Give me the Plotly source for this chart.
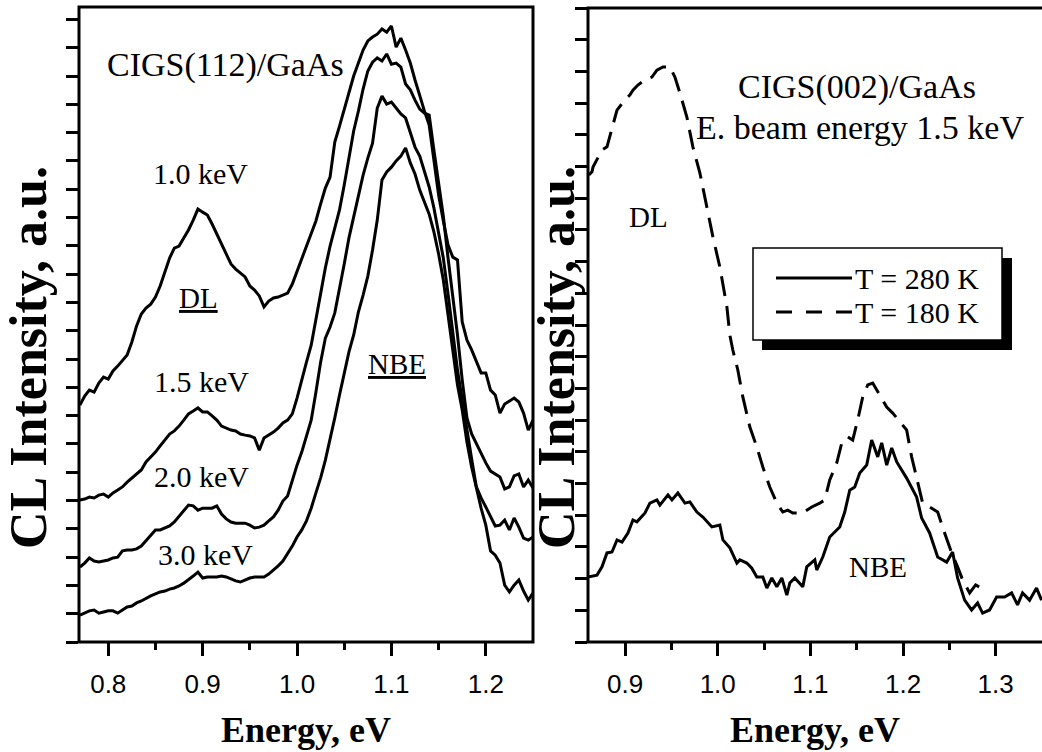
import plotly.graph_objects as go

# ---------------- data ----------------
# Left panel: CL spectra of CIGS(112)/GaAs for several e-beam energies
energy_left = [
    0.770, 0.775, 0.780, 0.785, 0.790, 0.795, 0.800, 0.805, 0.810, 0.815,
    0.820, 0.825, 0.830, 0.835, 0.840, 0.845, 0.850, 0.855, 0.860, 0.865,
    0.870, 0.875, 0.880, 0.885, 0.890, 0.895, 0.900, 0.905, 0.910, 0.915,
    0.920, 0.925, 0.930, 0.935, 0.940, 0.945, 0.950, 0.955, 0.960, 0.965,
    0.970, 0.975, 0.980, 0.985, 0.990, 0.995, 1.000, 1.005, 1.010, 1.015,
    1.020, 1.025, 1.030, 1.035, 1.040, 1.045, 1.050, 1.055, 1.060, 1.065,
    1.070, 1.075, 1.080, 1.085, 1.090, 1.095, 1.100, 1.105, 1.110, 1.115,
    1.120, 1.125, 1.130, 1.135, 1.140, 1.145, 1.150, 1.155, 1.160, 1.165,
    1.170, 1.175, 1.180, 1.185, 1.190, 1.195, 1.200, 1.205, 1.210, 1.215,
    1.220, 1.225, 1.230, 1.235, 1.240, 1.245, 1.250,
]

cl_1p0_kev = [
    8.37, 8.69, 8.90, 8.83, 9.15, 9.36, 9.29, 9.58, 9.75, 9.93,
    10.14, 10.60, 11.17, 11.59, 11.80, 11.94, 12.19, 12.58, 13.04, 13.57,
    13.92, 13.99, 14.28, 14.56, 14.91, 15.30, 15.19, 15.09, 14.77, 14.42,
    14.10, 13.75, 13.36, 13.18, 13.04, 12.90, 12.58, 12.44, 12.23, 11.84,
    12.05, 12.16, 12.19, 12.26, 12.33, 12.65, 13.11, 13.50, 13.99, 14.42,
    14.88, 15.48, 16.04, 16.43, 17.67, 18.23, 18.83, 19.36, 20.00, 20.46,
    20.92, 21.24, 21.38, 21.48, 21.66, 21.55, 21.77, 21.02, 21.34, 20.92,
    20.46, 19.86, 19.29, 18.76, 18.27, 17.10, 15.80, 14.88, 14.03, 13.60,
    13.50, 11.31, 10.67, 10.32, 9.89, 9.51, 9.51, 8.90, 8.73, 8.09,
    8.41, 8.52, 8.62, 8.48, 8.09, 7.49, 7.84,
]

cl_1p5_kev = [
    5.02, 5.05, 5.12, 5.09, 5.19, 5.23, 5.12, 5.27, 5.37, 5.48,
    5.65, 5.80, 5.94, 6.08, 6.36, 6.54, 6.71, 6.93, 7.14, 7.35,
    7.46, 7.63, 7.84, 8.06, 8.16, 8.27, 8.13, 8.13, 7.99, 7.84,
    7.63, 7.56, 7.49, 7.46, 7.35, 7.31, 7.28, 7.21, 6.78, 7.21,
    7.31, 7.42, 7.56, 7.74, 7.84, 8.06, 8.62, 9.29, 9.89, 10.49,
    11.45, 12.40, 13.22, 13.99, 14.63, 15.27, 16.15, 17.14, 18.06, 18.76,
    19.54, 20.18, 20.49, 20.64, 20.53, 20.78, 20.42, 20.46, 20.32, 19.72,
    19.51, 19.15, 18.83, 18.69, 18.62, 17.39, 16.25, 15.05, 13.57, 12.26,
    10.85, 9.26, 7.92, 7.35, 7.00, 6.68, 6.33, 6.04, 5.94, 5.83,
    5.41, 5.48, 5.87, 5.94, 5.48, 5.72, 5.44,
]

cl_2p0_kev = [
    2.65, 2.79, 2.97, 2.86, 2.83, 2.86, 2.90, 2.97, 3.00, 3.22,
    3.25, 3.25, 3.29, 3.39, 3.57, 3.78, 3.96, 3.96, 4.03, 4.10,
    4.24, 4.45, 4.66, 4.84, 4.81, 4.66, 4.73, 4.73, 4.73, 4.81,
    4.52, 4.35, 4.24, 4.20, 4.20, 4.20, 4.13, 4.03, 4.06, 4.13,
    4.28, 4.42, 4.66, 4.98, 5.16, 5.72, 6.25, 6.71, 7.28, 7.84,
    8.83, 9.89, 10.74, 11.13, 11.63, 12.44, 13.36, 14.28, 15.05, 15.80,
    16.50, 17.10, 17.63, 18.87, 19.29, 19.01, 19.08, 18.87, 18.66, 18.52,
    17.99, 17.49, 17.17, 16.64, 16.08, 15.34, 14.45, 13.57, 12.30, 11.02,
    9.61, 8.55, 7.46, 6.47, 5.48, 5.09, 4.77, 4.42, 4.10, 4.13,
    4.31, 3.96, 4.38, 4.06, 3.67, 3.60, 3.71,
]

cl_3p0_kev = [
    0.95, 1.02, 1.10, 1.13, 1.02, 1.06, 1.10, 1.10, 1.02, 1.13,
    1.24, 1.27, 1.38, 1.45, 1.55, 1.63, 1.70, 1.77, 1.80, 1.87,
    1.91, 1.98, 2.08, 2.19, 2.33, 2.47, 2.26, 2.30, 2.30, 2.30,
    2.33, 2.30, 2.23, 2.16, 2.12, 2.19, 2.26, 2.30, 2.30, 2.30,
    2.40, 2.54, 2.69, 2.86, 3.11, 3.39, 3.71, 3.96, 4.28, 4.73,
    5.27, 5.80, 6.43, 7.14, 7.92, 8.73, 9.54, 10.25, 10.85, 11.66,
    12.26, 12.93, 13.85, 14.91, 16.33, 16.61, 16.78, 17.00, 17.17, 17.46,
    16.93, 16.54, 15.97, 15.51, 15.12, 14.49, 13.71, 12.79, 11.59, 10.32,
    9.08, 8.20, 7.07, 6.18, 5.41, 4.73, 4.13, 3.22, 3.07, 2.79,
    2.01, 1.77, 2.01, 2.19, 1.80, 1.48, 1.73,
]

# Right panel: CIGS(002)/GaAs at 1.5 keV, two temperatures
energy_280k = [
    0.8600, 0.8697, 0.8751, 0.8805, 0.8859, 0.8913, 0.8967, 0.9031, 0.9085, 0.9128,
    0.9215, 0.9268, 0.9344, 0.9376, 0.9463, 0.9506, 0.9570, 0.9646, 0.9700, 0.9775,
    0.9840, 0.9937, 1.0023, 1.0056, 1.0131, 1.0207, 1.0239, 1.0314, 1.0368, 1.0422,
    1.0487, 1.0530, 1.0584, 1.0638, 1.0692, 1.0746, 1.0778, 1.0832, 1.0918, 1.0961,
    1.1048, 1.1069, 1.1134, 1.1209, 1.1317, 1.1371, 1.1425, 1.1479, 1.1533, 1.1608,
    1.1662, 1.1727, 1.1770, 1.1824, 1.1878, 1.1932, 1.2039, 1.2147, 1.2201, 1.2287,
    1.2374, 1.2471, 1.2535, 1.2589, 1.2665, 1.2740, 1.2805, 1.2859, 1.2934, 1.3010,
    1.3096, 1.3172, 1.3236, 1.3290, 1.3366, 1.3441, 1.3495,
]
cl_280k = [
    2.05, 2.11, 2.37, 2.81, 2.84, 3.22, 3.15, 3.44, 3.85, 3.79,
    4.07, 4.38, 4.48, 4.32, 4.64, 4.48, 4.70, 4.38, 4.42, 4.10,
    3.94, 3.63, 3.69, 3.22, 2.97, 2.49, 2.59, 2.49, 2.33, 2.05,
    2.05, 1.70, 2.02, 1.74, 2.02, 1.48, 1.86, 2.02, 1.74, 2.37,
    2.59, 2.27, 2.68, 3.31, 3.63, 4.10, 4.79, 4.89, 5.33, 5.58,
    6.37, 5.84, 6.28, 5.58, 6.12, 5.68, 5.17, 4.57, 3.91, 3.44,
    2.68, 2.52, 2.84, 2.02, 1.32, 1.01, 1.23, 0.91, 1.01, 1.42,
    1.42, 1.55, 1.17, 1.55, 1.32, 1.70, 1.32,
]

energy_180k = [
    0.8610, 0.8643, 0.8654, 0.8751, 0.8805, 0.8859, 0.8913, 0.8999, 0.9053, 0.9085,
    0.9139, 0.9215, 0.9290, 0.9344, 0.9409, 0.9484, 0.9538, 0.9592, 0.9667, 0.9732,
    0.9808, 0.9883, 0.9948, 1.0023, 1.0099, 1.0131, 1.0163, 1.0217, 1.0271, 1.0347,
    1.0422, 1.0487, 1.0562, 1.0638, 1.0702, 1.0756, 1.0810, 1.0918, 1.1015, 1.1101,
    1.1155, 1.1209, 1.1285, 1.1339, 1.1403, 1.1457, 1.1511, 1.1565, 1.1619, 1.1673,
    1.1727, 1.1824, 1.1889, 1.1964, 1.2039, 1.2093, 1.2158, 1.2212, 1.2287, 1.2374,
    1.2449, 1.2525, 1.2589, 1.2643, 1.2719, 1.2784, 1.2848,
]
cl_180k = [
    14.73, 14.83, 14.98, 15.52, 15.62, 16.21, 16.78, 17.10, 17.26, 17.41,
    17.57, 17.73, 17.82, 18.04, 18.14, 18.14, 17.82, 17.32, 16.56, 15.62,
    14.79, 13.72, 12.78, 11.83, 10.57, 9.68, 9.21, 8.58, 7.73, 6.78,
    6.15, 5.52, 4.89, 4.38, 4.10, 4.16, 4.07, 4.07, 4.26, 4.38,
    4.48, 5.11, 5.65, 6.28, 6.47, 6.37, 7.00, 7.73, 8.11, 8.17,
    7.89, 7.41, 7.22, 6.94, 6.69, 5.84, 5.02, 4.38, 4.26, 4.10,
    3.44, 2.81, 2.37, 1.96, 1.55, 1.80, 1.70,
]

left_ticks = [0.8, 0.9, 1.0, 1.1, 1.2]
left_minor = [0.85, 0.95, 1.05, 1.15]
left_top = [0.80, 0.85, 0.90, 0.95, 1.00, 1.05, 1.10, 1.15, 1.20]
right_ticks = [0.9, 1.0, 1.1, 1.2, 1.3]
right_minor = [0.95, 1.05, 1.15, 1.25]
right_top = [0.90, 0.95, 1.00, 1.05, 1.10, 1.15, 1.20, 1.25, 1.30]

legend_labels = ["T = 280 K", "T = 180 K"]

# ---------------- figure ----------------
W, H = 1042, 752
BLACK = "black"
SERIF = "Liberation Serif, Times New Roman, serif"
SANS = "Liberation Sans, Arial, sans-serif"
DASH = "20px,10px"


def px(x):
    return x / W


def py(y):
    return 1 - y / H


fig = go.Figure()
line = dict(color=BLACK, width=3)

for ys in (cl_1p0_kev, cl_1p5_kev, cl_2p0_kev, cl_3p0_kev):
    fig.add_trace(go.Scatter(x=energy_left, y=ys, mode="lines", line=line,
                             showlegend=False, xaxis="x", yaxis="y"))

fig.add_trace(go.Scatter(x=energy_280k, y=cl_280k, mode="lines", name=legend_labels[0],
                         line=dict(color=BLACK, width=3), showlegend=False,
                         xaxis="x2", yaxis="y2"))
fig.add_trace(go.Scatter(x=energy_180k, y=cl_180k, mode="lines", name=legend_labels[1],
                         line=dict(color=BLACK, width=3, dash=DASH), showlegend=False,
                         xaxis="x2", yaxis="y2"))

# panel geometry (pixels)
LX0, LX1, LY0, LY1 = 79, 533, 7, 642
RX0, RX1, RY0, RY1 = 588, 1042, 8, 642

dom_lx = [px(LX0), px(LX1)]
dom_rx = [px(RX0), 1.0]
dom_ly = [py(LY1), py(LY0)]
dom_ry = [py(RY1), py(RY0)]
xr_l = [0.769, 1.25]
xr_r = [0.86, 1.35]
yr_l = [0, 22.44]
yr_r = [0, 20]

common = dict(showgrid=False, zeroline=False, showline=False,
              tickcolor=BLACK, tickwidth=3)
tickfont = dict(family=SANS, size=26, color=BLACK)
minor_style = dict(ticks="outside", ticklen=7, tickwidth=3, tickcolor=BLACK)

fig.update_layout(
    width=W, height=H, autosize=False,
    margin=dict(l=0, r=0, t=0, b=0),
    paper_bgcolor="white", plot_bgcolor="white",
    showlegend=False,
    xaxis=dict(domain=dom_lx, range=xr_l, anchor="y", ticks="outside", ticklen=13,
               tickvals=left_ticks, ticktext=[f"{v:.1f}" for v in left_ticks],
               tickfont=tickfont, ticklabelstandoff=6,
               minor=dict(tickvals=left_minor, **minor_style), **common),
    xaxis3=dict(range=xr_l, overlaying="x", side="top", anchor="y", ticks="inside",
                ticklen=13, tickvals=left_top, showticklabels=False, **common),
    yaxis=dict(domain=dom_ly, range=yr_l, anchor="x", ticks="outside", ticklen=12,
               tick0=0, dtick=1, showticklabels=False, **common),
    yaxis3=dict(range=yr_l, overlaying="y", side="right", anchor="x", ticks="inside",
                ticklen=13, tick0=0, dtick=1, showticklabels=False, **common),
    xaxis2=dict(domain=dom_rx, range=xr_r, anchor="y2", ticks="outside", ticklen=13,
                tickvals=right_ticks, ticktext=[f"{v:.1f}" for v in right_ticks],
                tickfont=tickfont, ticklabelstandoff=6,
                minor=dict(tickvals=right_minor, **minor_style), **common),
    xaxis4=dict(range=xr_r, overlaying="x2", side="top", anchor="y2", ticks="inside",
                ticklen=13, tickvals=right_top, showticklabels=False, **common),
    yaxis2=dict(domain=dom_ry, range=yr_r, anchor="x2", ticks="outside", ticklen=12,
                tick0=0, dtick=1, showticklabels=False, **common),
    yaxis4=dict(range=yr_r, overlaying="y2", side="right", anchor="x2", ticks="inside",
                ticklen=13, tick0=0, dtick=1, showticklabels=False, **common),
)

# panel frames
frame = dict(color=BLACK, width=3)
fig.add_shape(type="rect", xref="paper", yref="paper",
              x0=px(LX0), x1=px(LX1), y0=py(LY1), y1=py(LY0), line=frame)
# right panel: left, bottom and top edges (right edge lies at the page border)
fig.add_shape(type="line", xref="paper", yref="paper",
              x0=px(RX0), x1=px(RX0), y0=py(RY1), y1=py(RY0), line=frame)
fig.add_shape(type="line", xref="paper", yref="paper",
              x0=px(RX0 - 1.5), x1=1.0, y0=py(RY1), y1=py(RY1), line=frame)
fig.add_shape(type="line", xref="paper", yref="paper",
              x0=px(RX0 - 1.5), x1=1.0, y0=py(RY0), y1=py(RY0), line=frame)

# legend box with drop shadow
fig.add_shape(type="rect", xref="paper", yref="paper",
              x0=px(762), x1=px(1012), y0=py(350), y1=py(258),
              fillcolor=BLACK, line=dict(width=0))
fig.add_shape(type="rect", xref="paper", yref="paper",
              x0=px(753), x1=px(1002), y0=py(340), y1=py(248),
              fillcolor="white", line=dict(color=BLACK, width=1.5))
fig.add_shape(type="line", xref="paper", yref="paper",
              x0=px(776), x1=px(852), y0=py(278), y1=py(278),
              line=dict(color=BLACK, width=3))
fig.add_shape(type="line", xref="paper", yref="paper",
              x0=px(776), x1=px(852), y0=py(312), y1=py(312),
              line=dict(color=BLACK, width=3, dash="16px,14px"))
for label, yy in zip(legend_labels, (278, 312)):
    fig.add_annotation(text=label, x=px(853), y=py(yy), xref="paper", yref="paper",
                       showarrow=False, xanchor="left", yanchor="middle",
                       font=dict(family=SERIF, size=30, color=BLACK))

annotations = [
    ("CIGS(112)/GaAs", 225, 65, 34),
    ("1.0 keV", 200, 173, 30),
    ("<u>DL</u>", 198, 298, 29),
    ("1.5 keV", 201, 381, 30),
    ("2.0 keV", 201, 476, 30),
    ("3.0 keV", 205, 554, 30),
    ("<u>NBE</u>", 397, 364, 29),
    ("CIGS(002)/GaAs", 857, 87, 34),
    ("E. beam energy 1.5 keV", 860, 127, 34),
    ("DL", 648, 217, 29),
    ("NBE", 878, 567, 29),
]
for text, x, y, size in annotations:
    fig.add_annotation(text=text, x=px(x), y=py(y), xref="paper", yref="paper",
                       showarrow=False, xanchor="center", yanchor="middle",
                       font=dict(family=SERIF, size=size, color=BLACK))

# axis titles
for x in (306, 815):
    fig.add_annotation(text="<b>Energy, eV</b>", x=px(x), y=py(730), xref="paper",
                       yref="paper", showarrow=False, xanchor="center", yanchor="middle",
                       font=dict(family=SERIF, size=36, color=BLACK))
for x in (28, 556):
    fig.add_annotation(text="<b>CL Intensity, a.u.</b>", x=px(x), y=py(358),
                       xref="paper", yref="paper", showarrow=False, textangle=-90,
                       xanchor="center", yanchor="middle",
                       font=dict(family=SERIF, size=52, color=BLACK))

fig.write_html("out.html")
